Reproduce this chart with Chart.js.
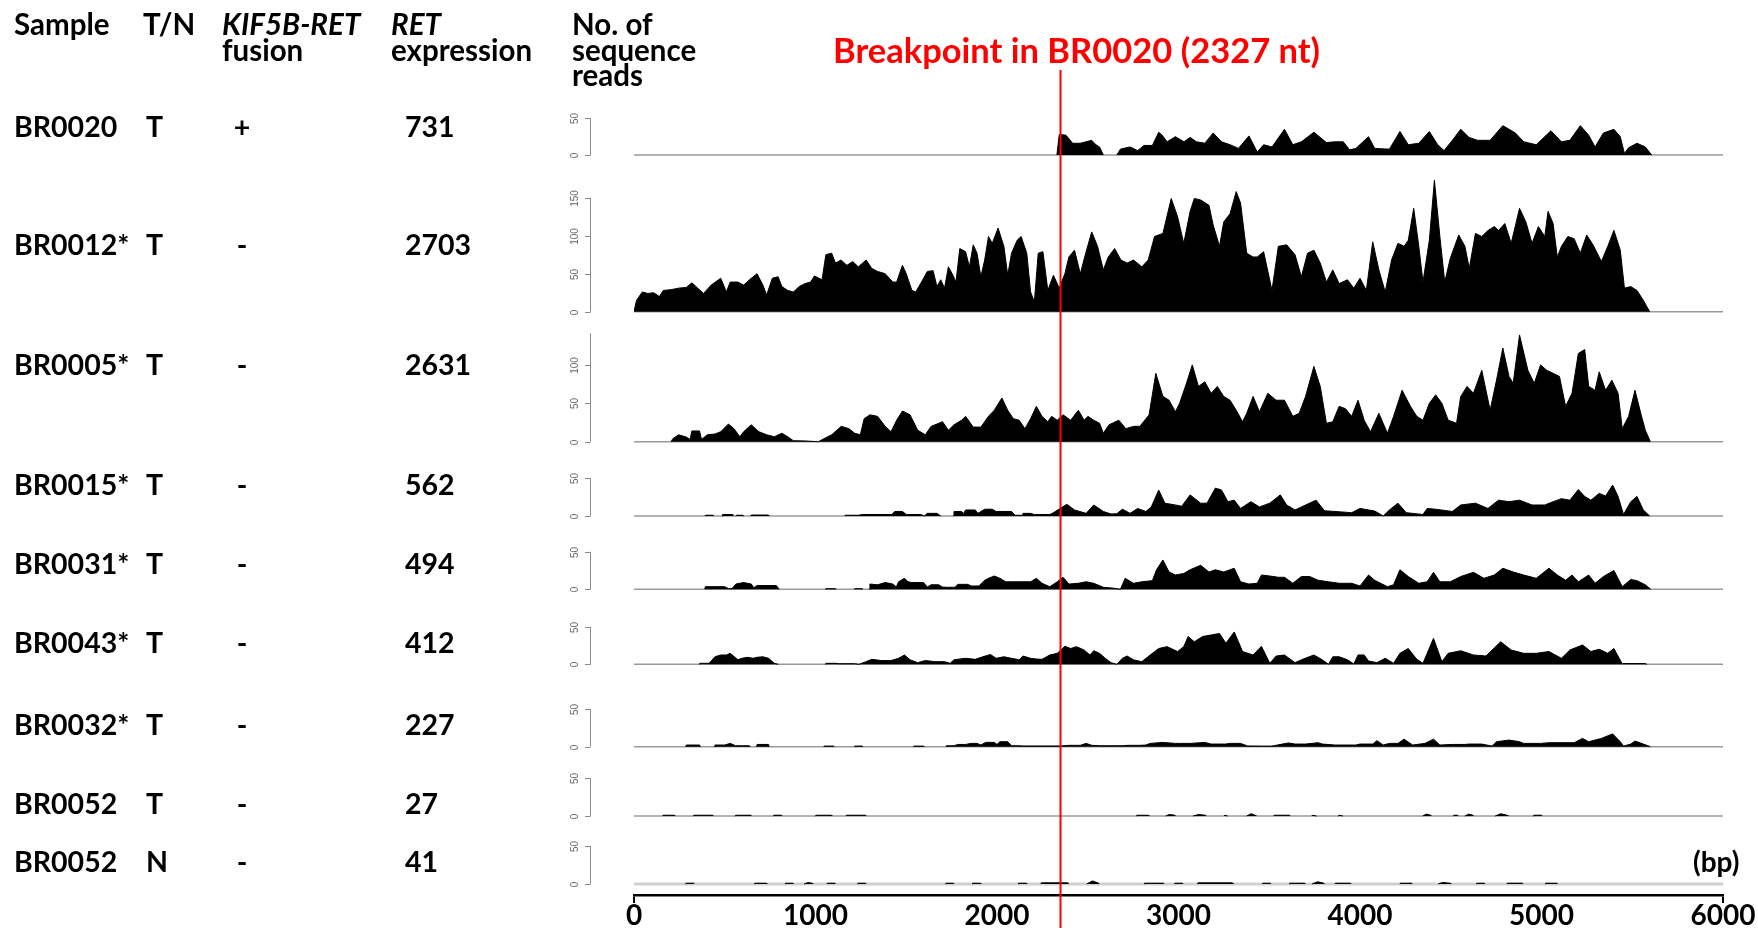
<!DOCTYPE html>
<html><head><meta charset="utf-8">
<script src="https://cdn.jsdelivr.net/npm/chart.js@4.4.1/dist/chart.umd.min.js"></script>
<style>
html,body{margin:0;padding:0;background:#fff;}
#wrap{position:relative;width:1758px;height:928px;overflow:hidden;background:#fff;}
canvas{position:absolute;left:0;top:0;}
.t{position:absolute;white-space:nowrap;font-family:Lato,'Open Sans',sans-serif;font-weight:700;color:#000;line-height:1;}
</style></head><body>
<div id="wrap"><canvas id="c" width="1758" height="928"></canvas></div>
<script>
// ---------------- DATA ----------------
const samples = ['BR0020','BR0012*','BR0005*','BR0015*','BR0031*','BR0043*','BR0032*','BR0052','BR0052'];
const tissue = ['T','T','T','T','T','T','T','T','N'];
const fusion = ['+','-','-','-','-','-','-','-','-'];
const retExpression = [731,2703,2631,562,494,412,227,27,41];
const breakpointNt = 2327;
const xTicks = [0,1000,2000,3000,4000,5000,6000];
const yTickSets = [[0,50],[0,50,100,150],[0,50,100],[0,50],[0,50],[0,50],[0,50],[0,50],[0,50]];
const yAxisTop = [50,150,141,50,50,50,50,50,50];

// coverage profiles: [position (bp), number of reads]
const covBR0020 = [[0,0],[2330,0],[2343,28],[2380,27],[2417,16],[2459,16],[2522,20],[2545,14],[2565,11],[2586,0],[2660,0],[2680,8],[2733,11],[2775,6],[2810,13],[2856,13],[2891,31],[2910,27],[2937,18],[2983,25],[3030,18],[3064,24],[3099,18],[3145,16],[3191,30],[3237,18],[3284,14],[3330,9],[3388,26],[3434,4],[3469,14],[3515,11],[3584,35],[3630,14],[3677,18],[3746,31],[3815,17],[3862,18],[3908,18],[3943,7],[3977,9],[4047,25],[4081,9],[4162,8],[4220,32],[4266,14],[4324,16],[4382,32],[4428,14],[4463,6],[4509,20],[4555,35],[4601,24],[4648,20],[4717,20],[4787,40],[4856,30],[4902,18],[4971,14],[5052,33],[5110,18],[5156,20],[5214,40],[5260,27],[5295,11],[5341,30],[5399,35],[5434,25],[5457,2],[5480,10],[5526,16],[5572,11],[5607,0],[6000,0]];
const covBR0012 = [[0,0],[14,15],[46,26],[76,24],[108,25],[140,20],[161,28],[204,29],[246,31],[288,32],[319,38],[351,31],[383,24],[425,35],[478,44],[509,26],[530,39],[572,39],[604,35],[636,42],[678,50],[710,35],[731,22],[762,44],[794,46],[815,33],[847,28],[878,26],[910,33],[942,37],[973,39],[994,47],[1036,42],[1057,75],[1089,77],[1110,64],[1141,68],[1173,61],[1205,66],[1236,59],[1279,68],[1310,57],[1342,53],[1384,50],[1426,39],[1447,39],[1479,61],[1500,50],[1531,28],[1552,26],[1584,39],[1616,53],[1648,54],[1669,33],[1690,42],[1711,31],[1732,59],[1753,50],[1774,39],[1795,83],[1827,79],[1848,59],[1869,88],[1890,77],[1911,46],[1932,68],[1953,99],[1974,90],[2006,110],[2038,86],[2059,48],[2080,77],[2111,94],[2133,99],[2164,77],[2185,26],[2206,13],[2227,77],[2253,79],[2280,28],[2311,48],[2343,31],[2374,50],[2396,72],[2427,81],[2459,50],[2491,79],[2522,105],[2554,86],[2586,55],[2613,72],[2648,83],[2683,68],[2717,64],[2752,68],[2798,59],[2833,68],[2868,99],[2914,103],[2960,149],[2995,125],[3029,90],[3064,132],[3087,149],[3122,147],[3168,140],[3191,114],[3226,86],[3249,118],[3284,129],[3318,158],[3342,143],[3376,77],[3411,72],[3434,72],[3469,79],[3515,28],[3550,86],[3596,88],[3642,75],[3677,46],[3711,77],[3746,81],[3781,64],[3815,39],[3850,55],[3885,37],[3931,42],[3966,31],[4000,44],[4035,28],[4070,92],[4104,55],[4139,26],[4174,68],[4209,90],[4243,86],[4266,94],[4296,136],[4324,86],[4347,39],[4382,94],[4410,173],[4440,99],[4467,39],[4497,70],[4544,101],[4578,86],[4602,57],[4636,103],[4671,99],[4706,107],[4740,112],[4763,107],[4798,116],[4833,90],[4879,136],[4914,118],[4948,90],[4983,112],[5018,99],[5036,132],[5064,116],[5087,72],[5110,86],[5145,99],[5180,96],[5214,77],[5249,101],[5284,88],[5330,66],[5365,86],[5399,107],[5434,81],[5457,31],[5492,33],[5526,28],[5561,15],[5596,0],[6000,0]];
const covBR0005 = [[0,0],[204,0],[214,4],[246,9],[288,6],[309,3],[319,14],[361,14],[372,3],[404,9],[446,10],[478,13],[520,23],[551,17],[583,6.5],[604,13],[646,22],[688,13],[731,9],[773,6.5],[815,11],[847,6.5],[878,1.3],[942,1],[1016,0],[1047,4],[1089,9],[1142,20],[1184,17],[1216,11],[1247,9],[1268,30],[1300,35],[1342,33],[1384,20],[1416,13],[1447,28],[1479,40],[1521,35],[1563,15],[1605,9],[1637,20],[1669,23],[1700,26],[1732,15],[1763,22],[1805,28],[1827,33],[1869,19],[1911,19],[1953,33],[1985,41],[2027,57],[2059,41],[2090,30],[2122,28],[2154,17],[2185,30],[2217,46],[2248,33],[2280,26],[2301,33],[2332,28],[2364,35],[2406,28],[2448,41],[2480,28],[2501,33],[2533,28],[2565,24],[2586,11],[2617,22],[2671,28],[2710,17],[2754,20],[2787,20],[2838,35],[2875,89],[2914,59],[2948,54],[2983,39],[3006,50],[3041,74],[3076,100],[3110,72],[3145,78],[3180,63],[3214,72],[3249,59],[3284,54],[3318,41],[3353,26],[3376,37],[3411,59],[3446,39],[3492,63],[3538,54],[3584,54],[3630,33],[3665,37],[3700,59],[3746,98],[3781,72],[3815,24],[3850,26],[3885,46],[3920,43],[3954,33],[3989,54],[4023,28],[4058,13],[4104,37],[4151,11],[4185,33],[4232,67],[4278,46],[4313,33],[4347,28],[4382,50],[4417,61],[4451,50],[4486,28],[4532,24],[4555,59],[4590,72],[4625,63],[4671,93],[4717,41],[4752,80],[4787,122],[4821,85],[4844,76],[4879,139],[4925,93],[4960,76],[4995,100],[5029,93],[5064,89],[5099,85],[5133,46],[5168,63],[5203,115],[5238,120],[5260,72],[5295,67],[5318,91],[5353,67],[5388,80],[5422,63],[5445,17],[5480,33],[5515,67],[5549,35],[5572,15],[5600,0],[6000,0]];
const covBR0015 = [[0,0],[390,0],[393,1],[435,1],[440,0],[485,0],[488,2],[541,2],[545,0],[560,0],[565,1],[600,1],[605,0],[643,0],[646,1.3],[741,1.3],[745,0],[1160,0],[1163,1],[1236,1],[1260,2],[1420,2],[1437,6],[1479,6],[1500,2],[1580,2],[1600,0],[1616,3.5],[1669,3.5],[1690,0],[1760,0],[1763,6],[1805,6],[1815,3],[1827,8],[1880,8],[1895,3.5],[1932,9],[1974,9],[1995,6],[2080,6],[2100,1],[2140,1],[2143,3.5],[2185,3.5],[2206,2],[2291,2],[2311,4.4],[2354,11],[2385,15.5],[2427,8],[2491,3.5],[2533,14.6],[2586,6],[2628,2.7],[2660,3],[2691,9],[2733,3.5],[2775,10],[2820,6],[2850,12],[2891,34.5],[2925,17],[2983,14.6],[3018,13],[3064,28],[3122,17],[3157,17],[3203,37],[3237,34.5],[3272,19],[3307,21],[3342,10],[3399,19],[3446,12],[3503,17],[3561,28],[3596,14.6],[3642,8],[3677,12],[3758,21],[3804,7],[3862,6],[3954,4.4],[4000,10],[4081,6.6],[4128,0],[4162,8],[4209,17],[4255,4.4],[4347,2],[4370,10],[4417,9],[4509,6],[4555,14.6],[4636,17],[4705,10],[4763,21],[4821,19],[4879,21],[4948,14.6],[5018,14.6],[5064,19],[5110,23],[5156,21],[5203,35],[5238,26],[5272,21],[5318,30],[5353,26.5],[5392,41],[5422,26],[5452,2],[5492,19],[5526,26],[5561,8],[5596,0],[6000,0]];
const covBR0031 = [[0,0],[390,0],[393,3.5],[499,3.5],[520,1],[540,1],[562,7],[604,9],[646,7],[660,2],[678,5],[784,5],[800,0],[1055,0],[1057,0.8],[1110,0.8],[1115,0],[1214,0],[1216,0.8],[1258,0.8],[1262,0],[1296,0],[1300,7],[1342,6],[1384,9],[1426,7],[1445,3],[1458,10],[1490,14.6],[1510,10],[1531,9],[1595,9],[1616,3],[1637,6],[1679,6],[1700,3],[1721,2.7],[1770,2.7],[1784,6.6],[1837,6.6],[1860,4.4],[1900,4.4],[1932,12],[1953,14.6],[1985,17.7],[2016,14.6],[2048,10],[2080,10],[2110,10],[2143,10],[2185,10],[2217,14.6],[2248,8],[2291,3.5],[2332,10],[2364,16],[2396,7],[2448,8],[2491,10],[2533,8],[2586,2.7],[2649,1.3],[2680,0],[2706,14.6],[2752,8],[2798,10],[2856,11.5],[2879,26],[2914,39],[2948,23],[2983,19],[3029,21],[3064,26],[3122,32],[3168,23],[3203,26],[3249,23],[3307,28],[3342,10],[3388,7],[3434,8],[3457,19],[3503,17.7],[3550,16],[3584,16],[3630,8],[3677,17],[3723,17],[3769,12],[3827,10],[3885,8],[3954,8],[4000,4.4],[4047,19],[4081,12],[4151,3.5],[4185,6],[4220,26],[4266,17],[4324,8],[4370,10],[4405,22.6],[4440,10],[4497,10],[4555,17],[4625,22.6],[4683,14.6],[4740,19],[4787,28],[4844,23],[4902,19],[4971,14.6],[5041,28],[5087,19],[5133,12],[5168,19],[5203,10],[5260,19],[5295,8],[5341,17],[5399,25],[5445,3.5],[5492,13],[5526,11.5],[5572,6],[5602,0],[6000,0]];
const covBR0043 = [[0,0],[360,0],[362,1.3],[414,1.3],[420,3],[446,10],[478,12.4],[509,12.4],[530,14.6],[573,6],[594,8],[625,9.3],[657,8],[678,9.3],[710,10],[741,8],[773,1.3],[794,0],[1055,0],[1057,1.3],[1110,1.3],[1130,0.8],[1215,0.8],[1240,0],[1279,3.5],[1310,6.6],[1363,5],[1416,5],[1458,8],[1490,12.4],[1521,6],[1563,2.2],[1605,5],[1658,3.5],[1711,3.5],[1742,1.3],[1763,6],[1827,8],[1880,6.6],[1922,10],[1964,13],[1995,8],[2038,10],[2080,8],[2122,6],[2143,11],[2185,8],[2217,7],[2248,6.6],[2291,12.4],[2332,14.6],[2374,24],[2406,21],[2438,23.5],[2480,19],[2512,12.4],[2533,18],[2565,14.6],[2596,8],[2628,2.2],[2660,0],[2691,8],[2717,11],[2752,6],[2798,3.5],[2844,12.4],[2891,21],[2937,23.5],[2995,17],[3029,23.5],[3053,37],[3087,30],[3133,37],[3180,39],[3226,41],[3261,28],[3307,43],[3353,17],[3411,12.4],[3457,24],[3503,1.3],[3538,11],[3584,12.4],[3642,2.2],[3677,6],[3746,12.4],[3792,6],[3827,0],[3850,10],[3885,10],[3931,6],[3966,0.4],[3989,12.4],[4023,12.4],[4047,4.4],[4093,2.2],[4139,8],[4185,1.3],[4220,14.6],[4266,21],[4313,6.6],[4347,1.3],[4405,34.5],[4451,3.5],[4486,14.6],[4555,18],[4625,12.4],[4694,11],[4775,30],[4833,19],[4902,14.6],[4971,14.6],[5041,17],[5110,8],[5156,19],[5226,25.7],[5272,17],[5318,20],[5365,14.6],[5399,21],[5445,0.5],[5450,1],[5572,1],[5580,0],[6000,0]];
const covBR0032 = [[0,0],[285,0],[288,2.2],[362,2.2],[366,0],[443,0],[446,2.2],[500,2.2],[530,4.4],[560,1.3],[604,1.3],[636,1.3],[640,0],[675,0],[678,3],[741,3],[745,0],[1045,0],[1047,0.8],[1100,0.8],[1104,0],[1214,0],[1216,0.8],[1258,0.8],[1262,0],[1540,0],[1542,0.8],[1595,0.8],[1600,0],[1719,0],[1721,1.3],[1763,1.3],[1784,3],[1827,3],[1858,4.4],[1890,4.4],[1911,2.2],[1937,5.7],[1985,5.7],[2000,3],[2016,6.6],[2059,6.6],[2080,1.3],[2120,1.3],[2143,1],[2185,1],[2227,1],[2269,1],[2311,1],[2354,1],[2396,1.8],[2459,1.8],[2491,4.4],[2522,1.8],[2565,1.3],[2628,1.3],[2691,1.3],[2722,1.8],[2786,1.8],[2820,2.2],[2844,4.4],[2914,5.7],[2983,4.4],[3006,4.4],[3064,4.4],[3145,5.7],[3180,3.5],[3260,3.5],[3284,4.4],[3342,4.4],[3380,1],[3469,0.8],[3515,0.8],[3573,3.5],[3607,5],[3642,3.5],[3700,3.5],[3770,5.3],[3792,3.5],[3862,2.2],[3977,2.2],[4000,3.5],[4070,3.5],[4093,8],[4128,2.2],[4162,4.4],[4209,4.4],[4243,10],[4290,2.2],[4358,4.4],[4405,10],[4440,2.2],[4509,3],[4578,3],[4600,3.5],[4670,3.5],[4728,0.8],[4752,6.6],[4821,8.8],[4879,6.6],[4902,4.4],[4995,4.4],[5041,5.3],[5180,5.3],[5226,11],[5260,6.6],[5295,8.8],[5330,11],[5392,17],[5434,6.6],[5452,0.8],[5492,3.5],[5515,7.5],[5561,3.5],[5600,0],[6000,0]];
const covBR0052T = [[0,0],[158,0],[160,1],[224,1],[228,0],[327,0],[329,1],[434,1],[438,0],[558,0],[560,1],[644,1],[648,0],[768,0],[770,1],[813,1],[817,0],[1000,0],[1002,1],[1086,1],[1090,0],[1168,0],[1170,1],[1276,1],[1280,0],[2768,0],[2770,1],[2833,1],[2837,0],[2930,0],[2950,2],[2980,1],[2984,0],[3080,0],[3110,2],[3149,1],[3153,0],[3250,0],[3254,1],[3270,0],[3375,0],[3400,3],[3422,1],[3426,0],[3525,0],[3527,1],[3612,1],[3616,0],[3734,0],[3738,1],[3760,0],[3880,0],[3885,1],[3905,0],[4345,0],[4365,2.5],[4390,1],[4394,0],[4515,0],[4517,1],[4538,1],[4542,0],[4578,0],[4600,2.5],[4622,1],[4626,0],[4745,0],[4775,3],[4811,1],[4815,0],[4955,0],[4958,1],[5000,1],[5004,0],[6000,0]];
const covBR0052N = [[0,0],[284,0],[286,1],[329,1],[333,0],[663,0],[665,1],[728,1],[732,0],[832,0],[834,1],[876,1],[880,0],[937,0],[960,2],[981,1],[985,0],[1063,0],[1065,1],[1107,1],[1111,0],[1232,0],[1234,1],[1276,1],[1280,0],[1716,0],[1718,1],[1760,1],[1764,0],[1863,0],[1865,1],[1907,1],[1911,0],[2116,0],[2118,1],[2160,1],[2164,0],[2242,0],[2244,1.5],[2391,1.5],[2395,0],[2494,0],[2526,4],[2560,1],[2564,0],[2810,0],[2812,1],[2917,1],[2921,0],[2978,0],[2980,1],[3022,1],[3026,0],[3105,0],[3107,1.5],[3296,1.5],[3300,0],[3462,0],[3464,1],[3506,1],[3510,0],[3610,0],[3612,1],[3696,1],[3700,0],[3736,0],[3767,3],[3801,1],[3805,0],[3862,0],[3864,1],[3948,1],[3952,0],[4220,0],[4222,1],[4285,1],[4289,0],[4431,0],[4455,2],[4496,1],[4500,0],[4641,0],[4643,1],[4685,1],[4689,0],[4809,0],[4811,1],[4895,1],[4899,0],[5020,0],[5022,1],[5085,1],[5089,0],[6000,0]];
const coverage = [covBR0020,covBR0012,covBR0005,covBR0015,covBR0031,covBR0043,covBR0032,covBR0052T,covBR0052N];

// ---------------- LAYOUT (pixels) ----------------
const W = 1758, H = 928;
const areaLeft = 634, areaRight = 1723, areaTop = 0, areaBottom = 895;
const panelZeroY = [155, 311.7, 441.7, 516, 589.3, 664.3, 746.7, 816, 884];
const panelFiftyY = [118.3, 273.7, 403.3, 478.3, 551.7, 626.7, 709, 778.3, 846];
const rowBaseline = [137, 255.5, 375.4, 495.2, 574.4, 653.6, 735, 814.3, 872];
const headerBaseline = [35, 61, 86];
const drawnBreakpointBp = 2350; // where the red line sits in the figure

// ---------------- TEXT ----------------
const wrap = document.getElementById('wrap');
function addText(html, x, baseline, size, opts) {
  opts = opts || {};
  const d = document.createElement('div');
  d.className = 't';
  d.innerHTML = html;
  d.style.fontSize = size + 'px';
  d.style.left = x + 'px';
  d.style.top = (baseline - 0.887 * size) + 'px';
  if (opts.italic) d.style.fontStyle = 'italic';
  if (opts.color) d.style.color = opts.color;
  if (opts.center) d.style.transform = 'translateX(-50%)';
  wrap.appendChild(d);
}
const hs = 29.5;
addText('Sample', 14, headerBaseline[0], hs);
addText('T/N', 143, headerBaseline[0], hs);
addText('KIF5B-RET', 222, headerBaseline[0], hs, {italic: true});
addText('fusion', 222, headerBaseline[1], hs);
addText('RET', 391, headerBaseline[0], hs, {italic: true});
addText('expression', 391, headerBaseline[1], hs);
addText('No. of', 572, headerBaseline[0], hs);
addText('sequence', 572, headerBaseline[1], hs);
addText('reads', 572, headerBaseline[2], hs);
addText('Breakpoint in BR0020 (' + breakpointNt + ' nt)', 833, 63.3, 34.5, {color: '#ff0000'});
addText('(bp)', 1693, 872, 28);
const rs = 28.5;
samples.forEach((s, i) => {
  addText(s, 14, rowBaseline[i], rs);
  addText(tissue[i], 146, rowBaseline[i], rs);
  addText(fusion[i], 242, rowBaseline[i], rs, {center: true});
  addText(String(retExpression[i]), 405, rowBaseline[i], rs);
});

// ---------------- CHART ----------------
const scales = {
  x: {
    type: 'linear', position: 'bottom', min: 0, max: 6000,
    afterBuildTicks: s => { s.ticks = xTicks.map(v => ({value: v})); },
    afterFit: s => { s.height = H - areaBottom; },
    ticks: {
      autoSkip: false, maxRotation: 0, minRotation: 0, padding: -4, color: '#000',
      font: {family: 'Lato', weight: 'bold', size: 28},
      callback: v => String(v)
    },
    grid: {
      drawOnChartArea: false, drawTicks: true, tickLength: 8, lineWidth: 2,
      color: c => (c.tick && (c.tick.value === xTicks[0] || c.tick.value === xTicks[xTicks.length - 1])) ? '#000' : 'rgba(0,0,0,0)'
    },
    border: {display: true, color: '#000', width: 2.5}
  }
};
coverage.forEach((c, i) => {
  const k = (panelZeroY[i] - panelFiftyY[i]) / 50;
  scales['y' + i] = {
    type: 'linear', display: false, position: 'left',
    min: -(areaBottom - panelZeroY[i]) / k,
    max: (panelZeroY[i] - areaTop) / k
  };
});

const datasets = coverage.map((pts, i) => ({
  label: samples[i] + ' ' + tissue[i],
  data: pts.map(p => ({x: p[0], y: p[1]})),
  yAxisID: 'y' + i,
  borderColor: '#000', borderWidth: 1, backgroundColor: '#000',
  fill: 'origin', pointRadius: 0, tension: 0,
  segment: {borderColor: c => (c.p0.parsed.y === 0 && c.p1.parsed.y === 0) ? 'rgba(0,0,0,0)' : '#000'}
}));

const panelPlugin = {
  id: 'panels',
  beforeDatasetsDraw(chart) {
    const ctx = chart.ctx, xs = chart.scales.x;
    const x0 = xs.getPixelForValue(0), x1 = xs.getPixelForValue(6000);
    const axX = chart.chartArea.left - 44;
    ctx.save();
    coverage.forEach((c, i) => {
      const ys = chart.scales['y' + i];
      const y0 = ys.getPixelForValue(0);
      // baseline
      ctx.strokeStyle = i === coverage.length - 1 ? '#cfcfcf' : '#9a9a9a';
      ctx.lineWidth = i === coverage.length - 1 ? 3 : 1.5;
      ctx.beginPath(); ctx.moveTo(x0, y0); ctx.lineTo(x1, y0); ctx.stroke();
      // axis line
      ctx.strokeStyle = '#8a8a8a'; ctx.lineWidth = 1;
      ctx.beginPath(); ctx.moveTo(axX + 0.5, y0); ctx.lineTo(axX + 0.5, ys.getPixelForValue(yAxisTop[i])); ctx.stroke();
      yTickSets[i].forEach(v => {
        const y = Math.round(ys.getPixelForValue(v)) + 0.5;
        ctx.beginPath(); ctx.moveTo(axX - 5, y); ctx.lineTo(axX + 0.5, y); ctx.stroke();
        ctx.save();
        ctx.translate(axX - 15, y);
        ctx.rotate(-Math.PI / 2);
        ctx.fillStyle = '#666';
        ctx.font = '10px "Liberation Sans", Arial, sans-serif';
        ctx.textAlign = 'center'; ctx.textBaseline = 'middle';
        ctx.fillText(String(v), 0, 0);
        ctx.restore();
      });
    });
    ctx.restore();
  },
  afterDraw(chart) {
    const ctx = chart.ctx, xs = chart.scales.x;
    const x = xs.getPixelForValue(drawnBreakpointBp);
    ctx.save();
    ctx.strokeStyle = '#ff0000'; ctx.lineWidth = 2;
    ctx.beginPath(); ctx.moveTo(x, 70); ctx.lineTo(x, chart.height); ctx.stroke();
    ctx.restore();
  }
};

new Chart(document.getElementById('c'), {
  type: 'line',
  data: {datasets},
  options: {
    responsive: false, animation: false, devicePixelRatio: 1,
    layout: {padding: {left: areaLeft, right: W - areaRight, top: areaTop, bottom: 0}},
    plugins: {legend: {display: false}, tooltip: {enabled: false}},
    elements: {line: {borderJoinStyle: 'miter'}},
    scales
  },
  plugins: [panelPlugin]
});
</script>
</body></html>
